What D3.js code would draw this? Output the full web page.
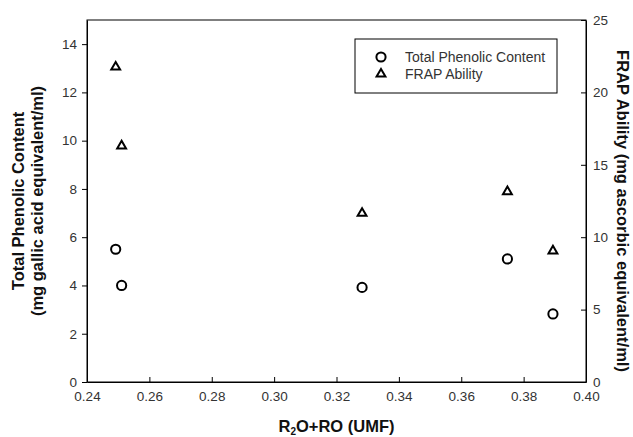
<!DOCTYPE html>
<html>
<head>
    <meta charset="UTF-8" />
    <title>Chart</title>
    <style>
        body { margin: 0; background-color: #fff; }
        svg { font-family: "Liberation Sans", Arial, sans-serif; }
        .axis path, .axis line { stroke: #000; stroke-width: 1; }
        .axis text { font-size: 13.5px; fill: #333; }
        .title { font-size: 16.5px; font-weight: bold; fill: #111; }
    </style>
    <script src="https://cdn.jsdelivr.net/npm/d3@7"></script>
</head>
<body>
    <div id="chart"></div>
    <script>
        // data
        let umf = [0.2492, 0.2511, 0.3282, 0.3748, 0.3894];
        let phenolic = [5.5, 4.0, 3.92, 5.1, 2.82];
        let frap = [21.75, 16.3, 11.65, 13.15, 9.05];
        let xTicks = [0.24, 0.26, 0.28, 0.30, 0.32, 0.34, 0.36, 0.38, 0.40];
        let leftTicks = [0, 2, 4, 6, 8, 10, 12, 14];
        let rightTicks = [0, 5, 10, 15, 20, 25];
        let legendLabels = ["Total Phenolic Content", "FRAP Ability"];

        let W = 633, H = 437;
        let margin = { top: 20, right: 47, bottom: 55, left: 87 };
        let width = W - margin.left - margin.right,
            height = H - margin.top - margin.bottom;

        let svg = d3.select("#chart").append("svg")
            .attr("width", W)
            .attr("height", H);
        let g = svg.append("g")
            .attr("transform", "translate(" + margin.left + "," + margin.top + ")");

        let x = d3.scaleLinear().domain([0.24, 0.40]).range([0, width]);
        let yL = d3.scaleLinear().domain([0, 15]).range([height, 0]);
        let yR = d3.scaleLinear().domain([0, 25]).range([height, 0]);

        // frame
        g.append("rect")
            .attr("width", width).attr("height", height)
            .attr("fill", "none").attr("stroke", "#000");

        // bottom axis, ticks inward
        g.append("g")
            .attr("class", "axis")
            .attr("transform", "translate(0," + height + ")")
            .call(d3.axisBottom(x).tickValues(xTicks).tickFormat(d3.format(".2f"))
                .tickSizeInner(-5).tickSizeOuter(0).tickPadding(9));

        // left axis, ticks outward
        g.append("g")
            .attr("class", "axis")
            .call(d3.axisLeft(yL).tickValues(leftTicks).tickSizeInner(5).tickSizeOuter(0).tickPadding(5));

        // right axis, ticks inward
        g.append("g")
            .attr("class", "axis")
            .attr("transform", "translate(" + width + ",0)")
            .call(d3.axisRight(yR).tickValues(rightTicks).tickSizeInner(-5).tickSizeOuter(0).tickPadding(7));

        // points
        let pts = umf.map((u, i) => ({ u: u, p: phenolic[i], f: frap[i] }));

        g.append("g").selectAll("circle")
            .data(pts).enter()
            .append("circle")
            .attr("cx", d => x(d.u))
            .attr("cy", d => yL(d.p))
            .attr("r", 4.6)
            .attr("fill", "none")
            .attr("stroke", "#000")
            .attr("stroke-width", 2);

        let tri = d3.symbol().type(d3.symbolTriangle).size(34);
        g.append("g").selectAll("path")
            .data(pts).enter()
            .append("path")
            .attr("d", tri)
            .attr("transform", d => "translate(" + x(d.u) + "," + yR(d.f) + ")")
            .attr("fill", "none")
            .attr("stroke", "#000")
            .attr("stroke-width", 2);

        // legend
        let lg = svg.append("g").attr("transform", "translate(355,39)");
        lg.append("rect")
            .attr("width", 202).attr("height", 54)
            .attr("fill", "#fff").attr("stroke", "#000");
        lg.append("circle")
            .attr("cx", 26).attr("cy", 18).attr("r", 4.6)
            .attr("fill", "none").attr("stroke", "#000").attr("stroke-width", 2);
        lg.append("path")
            .attr("d", tri)
            .attr("transform", "translate(26,35)")
            .attr("fill", "none").attr("stroke", "#000").attr("stroke-width", 2);
        lg.selectAll("text.leg")
            .data(legendLabels).enter()
            .append("text")
            .attr("class", "leg")
            .attr("x", 50)
            .attr("y", (d, i) => 23 + i * 17)
            .attr("font-size", "14px")
            .attr("fill", "#333")
            .text(d => d);

        // axis titles
        let xt = svg.append("text")
            .attr("class", "title")
            .attr("x", margin.left + width / 2)
            .attr("y", 432)
            .attr("text-anchor", "middle");
        xt.append("tspan").text("R");
        xt.append("tspan").attr("font-size", "10px").attr("dy", 3).text("2");
        xt.append("tspan").attr("dy", -3).text("O+RO (UMF)");

        svg.append("text")
            .attr("class", "title")
            .attr("transform", "translate(24," + (margin.top + height / 2) + ") rotate(-90)")
            .attr("text-anchor", "middle")
            .text("Total Phenolic Content");
        svg.append("text")
            .attr("class", "title")
            .attr("transform", "translate(43," + (margin.top + height / 2) + ") rotate(-90)")
            .attr("text-anchor", "middle")
            .text("(mg gallic acid equivalent/ml)");

        svg.append("text")
            .attr("class", "title")
            .attr("font-size", "16px")
            .attr("transform", "translate(617,211) rotate(90)")
            .attr("text-anchor", "middle")
            .text("FRAP Ability (mg ascorbic equivalent/ml)");
    </script>
</body>
</html>
